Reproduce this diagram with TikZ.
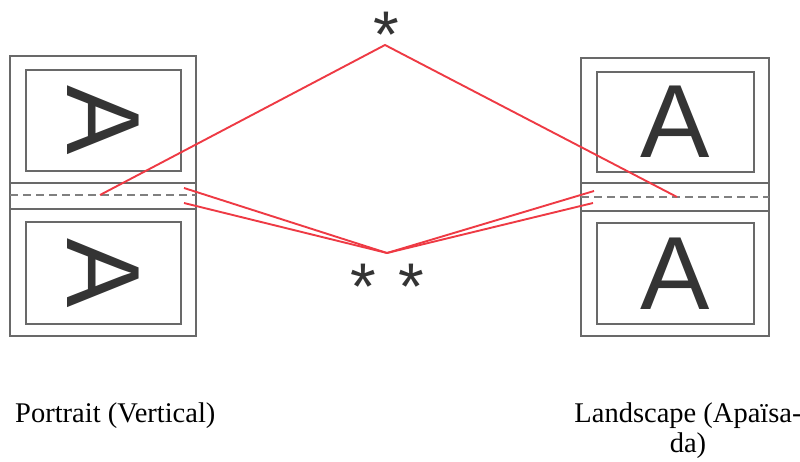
\documentclass[tikz,border=0pt]{standalone}
\usepackage{fontspec}
\setmainfont{Liberation Serif}
\newfontfamily\letterfont{Liberation Sans}
\usepackage{tikz}
\definecolor{sheetgray}{RGB}{105,105,105}
\definecolor{foldred}{RGB}{238,58,68}
\definecolor{lettergray}{RGB}{52,52,52}
\tikzset{
  sheet/.style={draw=sheetgray,line width=1.4pt},
  foldline/.style={draw=sheetgray!85,line width=2.2pt,dash pattern=on 8pt off 5pt},
  redline/.style={draw=foldred,line width=1.9pt},
  letter/.style={inner sep=0pt,text=lettergray,font=\letterfont\fontsize{104}{104}\selectfont},
  star/.style={inner sep=0pt,anchor=base,text=lettergray,font=\letterfont\fontsize{66}{66}\selectfont},
  caption/.style={inner sep=0pt,font=\fontsize{28.5}{30}\selectfont}
}
\begin{document}
\begin{tikzpicture}[x=1pt,y=-1pt]
\useasboundingbox (0,0) rectangle (800,462);
% portrait sheet:
\path[sheet] (10,56) rectangle (196,336);
\path[sheet] (26,70) rectangle (181,171);
\path[sheet] (26,222) rectangle (181,324);
\path[sheet] (10,183) -- (196,183) (10,209) -- (196,209);
\path[foldline] (10,195) -- (196,195);
\node[letter,rotate=-90] (portraitA) at (103.5,120.5) {A};
\node[letter,rotate=-90] (portraitB) at (103.5,273) {A};
% landscape sheet:
\path[sheet] (581,58) rectangle (769,336);
\path[sheet] (597,72) rectangle (754,172);
\path[sheet] (597,223) rectangle (754,324);
\path[sheet] (581,183) -- (769,183) (581,211) -- (769,211);
\path[foldline] (581,197) -- (769,197);
\node[letter] (landscapeA) at (675.5,122) {A};
\node[letter] (landscapeB) at (675.5,273.5) {A};
% margin marks:
\coordinate (apexA) at (385,45);
\coordinate (apexB) at (387,253);
\coordinate (lfold) at (100,195);
\coordinate (rfold) at (677,197);
\coordinate (lin) at (184,188);
\coordinate (lout) at (184,203);
\coordinate (rin) at (594,191);
\coordinate (rout) at (593,203);
\path[redline] (lfold) -- (apexA) -- (rfold);
\path[redline] (lin) -- (apexB) -- (rin);
\path[redline] (lout) -- (apexB) -- (rout);
\node[star] (starA) at (386,58) {*};
\node[star] (starB) at (363,309) {*};
\node[star] (starC) at (411,309) {*};
% captions:
\node[caption,anchor=base west] (portrait) at (15,422) {Portrait (Vertical)};
\node[caption,anchor=base,align=center] (landscape) at (688,452) {Landscape (Apaïsa-\\da)};
\end{tikzpicture}
\end{document}
